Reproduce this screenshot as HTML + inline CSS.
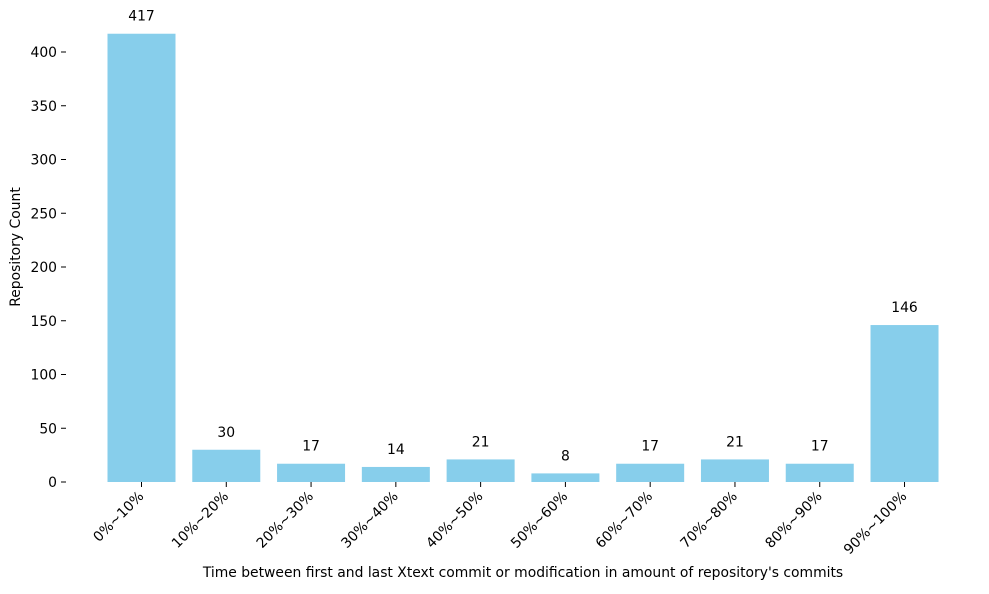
<!DOCTYPE html>
<html><head><meta charset="utf-8"><style>
body{margin:0;background:#fff}
text{font-family:"DejaVu Sans","Liberation Sans",sans-serif;font-size:13.9px;fill:#000}
</style></head><body>
<svg id="c" width="989" height="589"></svg>
<script>
const categories=["0%~10%","10%~20%","20%~30%","30%~40%","40%~50%","50%~60%","60%~70%","70%~80%","80%~90%","90%~100%"];
const counts=[417,30,17,14,21,8,17,21,17,146];
const yTicks=[0,50,100,150,200,250,300,350,400];
const svg=document.getElementById('c');
const NS='http://www.w3.org/2000/svg';
function y(v){return 482-v*1.075;}
function x(i){return 141.5+i*84.78;}
const bw=68;
function mk(tag,attrs,txt){const e=document.createElementNS(NS,tag);for(const k in attrs)e.setAttribute(k,attrs[k]);if(txt!==undefined)e.textContent=txt;svg.appendChild(e);return e;}
yTicks.forEach(t=>{
  const l=mk('line',{x1:61,x2:66,y1:y(t),y2:y(t),stroke:'#000','stroke-width':1});
  
  
  const tx=mk('text',{x:57,y:y(t)+5,'text-anchor':'end'},t);
  
  
});
categories.forEach((c,i)=>{
  const v=counts[i];
  const r=mk('rect',{x:x(i)-bw/2,y:y(v),width:bw,height:482-y(v),fill:'#87ceeb'});
  
  
  const vl=mk('text',{x:x(i),y:y(v)-13,'text-anchor':'middle'},v);
  
  
  const tk=mk('line',{x1:x(i),x2:x(i),y1:482,y2:487,stroke:'#000','stroke-width':1});
  
  
  const xl=mk('text',{x:x(i)+3,y:497,'text-anchor':'end',transform:`rotate(-45 ${x(i)+3} 497)`},c);
  
  
});
const yt=mk('text',{x:20,y:247,'text-anchor':'middle',transform:'rotate(-90 20 247)'},'Repository Count');


const xt=mk('text',{x:523,y:577,'text-anchor':'middle'},"Time between first and last Xtext commit or modification in amount of repository's commits");


</script>
</body></html>
